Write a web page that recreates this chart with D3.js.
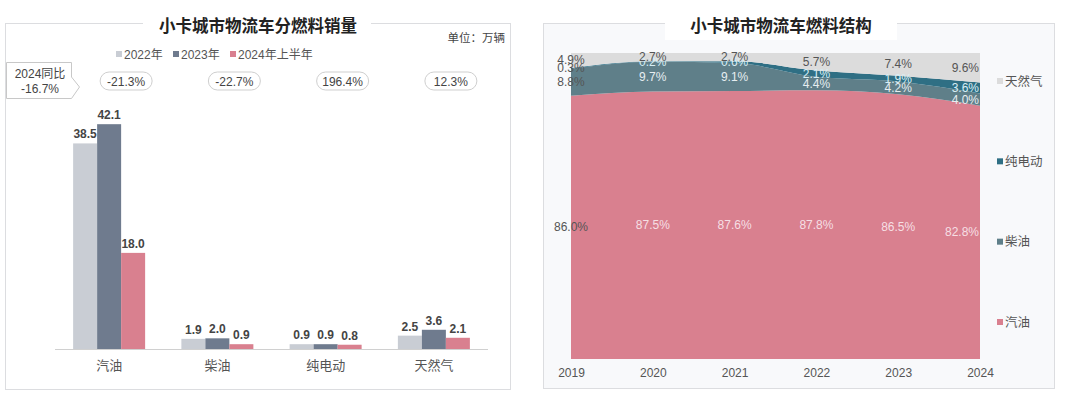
<!DOCTYPE html>
<html>
<head>
<meta charset="utf-8">
<script src="https://cdn.jsdelivr.net/npm/d3@7"></script>
<style>
  body { margin: 0; background: #fff; }
  svg text { font-family: "Liberation Sans", Arial, "Noto Sans CJK SC", sans-serif; }
</style>
</head>
<body>
<div id="chart"></div>
<script>
// left chart: sales by fuel (万辆)
const fuelCats = ["汽油", "柴油", "纯电动", "天然气"];
const seriesNames = ["2022年", "2023年", "2024年上半年"];
const sales2022 = [38.5, 1.9, 0.9, 2.5];
const sales2023 = [42.1, 2.0, 0.9, 3.6];
const sales2024H1 = [18.0, 0.9, 0.8, 2.1];
const yoyLabels = ["-21.3%", "-22.7%", "196.4%", "12.3%"];
const totalYoy = "-16.7%";

// right chart: fuel structure (%)
const structYears = ["2019", "2020", "2021", "2022", "2023", "2024"];
const shareGasoline = [86.0, 87.5, 87.6, 87.8, 86.5, 82.8];
const shareDiesel = [8.8, 9.7, 9.1, 4.4, 4.2, 4.0];
const shareElectric = [0.3, 0.2, 0.6, 2.1, 1.9, 3.6];
const shareGas = [4.9, 2.7, 2.7, 5.7, 7.4, 9.6];

const W = 1080, H = 398;
const svg = d3.select("#chart").append("svg").attr("width", W).attr("height", H);

const barColors = ["#c9cdd4", "#6f7b8e", "#d9808f"];
const areaColors = { "汽油": "#d9808f", "柴油": "#5f7f89", "纯电动": "#2f6f84", "天然气": "#dcdcdc" };

// ---------- left panel ----------
const left = svg.append("g");
left.append("rect").attr("x", 5.5).attr("y", 23.5).attr("width", 505).attr("height", 366)
  .attr("fill", "#fff").attr("stroke", "#dcdde0");
left.append("rect").attr("x", 143).attr("y", 10).attr("width", 228).attr("height", 30).attr("fill", "#fff");
left.append("text").attr("x", 258).attr("y", 32).attr("text-anchor", "middle")
  .attr("font-size", 16.5).attr("font-weight", "bold").attr("fill", "#222")
  .style("font-family", "'Noto Sans CJK SC', sans-serif")
  .text("小卡城市物流车分燃料销量");
left.append("text").attr("x", 505).attr("y", 42).attr("text-anchor", "end")
  .attr("font-size", 11.5).attr("fill", "#444").text("单位：万辆");

// legend
const legX = [116, 173, 230];
seriesNames.forEach((s, i) => {
  left.append("rect").attr("x", legX[i]).attr("y", 51).attr("width", 6).attr("height", 6).attr("fill", barColors[i]);
  left.append("text").attr("x", legX[i] + 8).attr("y", 58.5).attr("font-size", 12).attr("fill", "#555").text(s);
});

// YoY callout
left.append("path")
  .attr("d", "M6.5,62.5 H71.5 V77 L79.5,87 L71.5,98.5 H6.5 Z")
  .attr("fill", "#fff").attr("stroke", "#c8c8c8");
left.append("text").attr("x", 40).attr("y", 78).attr("text-anchor", "middle").attr("font-size", 12).attr("fill", "#444").text("2024同比");
left.append("text").attr("x", 40).attr("y", 93).attr("text-anchor", "middle").attr("font-size", 12).attr("fill", "#444").text(totalYoy);

const x0 = d3.scaleBand().domain(fuelCats).range([55, 488]);
const x1 = d3.scaleBand().domain(seriesNames).range([0, 72]);
const yBar = d3.scaleLinear().domain([0, 45]).range([349, 108.7]);
const barData = [sales2022, sales2023, sales2024H1];

// yoy pills
fuelCats.forEach((c, i) => {
  const cx = x0(c) + x0.bandwidth() / 2 + 17;
  left.append("rect").attr("x", cx - 26).attr("y", 72).attr("width", 52).attr("height", 18).attr("rx", 9)
    .attr("fill", "#fff").attr("stroke", "#cfcfcf");
  left.append("text").attr("x", cx).attr("y", 85.5).attr("text-anchor", "middle").attr("font-size", 12).attr("fill", "#444").text(yoyLabels[i]);
});

const groups = left.selectAll("g.grp").data(fuelCats).join("g")
  .attr("transform", c => `translate(${x0(c) + (x0.bandwidth() - 72) / 2},0)`);
groups.each(function(c, ci) {
  const g = d3.select(this);
  seriesNames.forEach((s, si) => {
    const v = barData[si][ci];
    g.append("rect").attr("x", x1(s)).attr("width", x1.bandwidth())
      .attr("y", yBar(v)).attr("height", yBar(0) - yBar(v)).attr("fill", barColors[si]);
    g.append("text").attr("x", x1(s) + x1.bandwidth() / 2).attr("y", yBar(v) - 5)
      .attr("text-anchor", "middle").attr("font-size", 12).attr("font-weight", "bold").attr("fill", "#444")
      .text(v.toFixed(1));
  });
});
left.append("line").attr("x1", 55).attr("x2", 488).attr("y1", 349.5).attr("y2", 349.5).attr("stroke", "#d0d0d0");
const xAxisL = left.append("g").attr("transform", "translate(0,349)")
  .call(d3.axisBottom(x0).tickSize(0).tickPadding(12));
xAxisL.select(".domain").remove();
xAxisL.selectAll("text").attr("font-size", 13).attr("fill", "#555")
  .style("font-family", "'Noto Sans CJK SC', sans-serif");

// ---------- right panel ----------
const right = svg.append("g");
right.append("rect").attr("x", 543.5).attr("y", 23.5).attr("width", 511).attr("height", 365)
  .attr("fill", "#f8f9fb").attr("stroke", "#dcdde0");
right.append("rect").attr("x", 665).attr("y", 8).attr("width", 232).attr("height", 32).attr("fill", "#fff");
right.append("text").attr("x", 781).attr("y", 32).attr("text-anchor", "middle")
  .attr("font-size", 16.5).attr("font-weight", "bold").attr("fill", "#222")
  .style("font-family", "'Noto Sans CJK SC', sans-serif")
  .text("小卡城市物流车燃料结构");

const keys = ["汽油", "柴油", "纯电动", "天然气"];
const shareRows = structYears.map((yr, i) => ({
  year: yr, "汽油": shareGasoline[i], "柴油": shareDiesel[i], "纯电动": shareElectric[i], "天然气": shareGas[i]
}));
const stacked = d3.stack().keys(keys).offset(d3.stackOffsetExpand)(shareRows);

const xA = d3.scalePoint().domain(structYears).range([571, 980]);
const yA = d3.scaleLinear().domain([0, 1]).range([359, 53]);
const area = d3.area().x(d => xA(d.data.year)).y0(d => yA(d[0])).y1(d => yA(d[1]))
  .curve(d3.curveMonotoneX);

right.selectAll("path.layer").data(stacked).join("path")
  .attr("class", "layer").attr("d", area).attr("fill", d => areaColors[d.key]);

const labelColors = { "汽油": "#f6dfe4", "柴油": "#e6eef1", "纯电动": "#d8eef5", "天然气": "#555" };
stacked.forEach(layer => {
  layer.forEach((d, i) => {
    const x = xA(d.data.year);
    const anchor = i === structYears.length - 1 ? "end" : "middle";
    right.append("text")
      .attr("x", i === structYears.length - 1 ? x - 1 : x)
      .attr("y", yA((d[0] + d[1]) / 2) + 4)
      .attr("text-anchor", anchor).attr("font-size", 12)
      .attr("fill", i === 0 ? "#555" : labelColors[layer.key])
      .text(d.data[layer.key].toFixed(1) + "%");
  });
});

const xAxisR = right.append("g").attr("transform", "translate(0,359)")
  .call(d3.axisBottom(xA).tickSize(0).tickPadding(9));
xAxisR.select(".domain").remove();
xAxisR.selectAll("text").attr("font-size", 12).attr("fill", "#555");

// right legend (top to bottom: 天然气, 纯电动, 柴油, 汽油)
const legendKeys = keys.slice().reverse();
const legY = d3.scalePoint().domain(legendKeys).range([81, 322]);
legendKeys.forEach(k => {
  right.append("rect").attr("x", 997).attr("y", legY(k) - 3).attr("width", 6).attr("height", 6).attr("fill", areaColors[k]);
  right.append("text").attr("x", 1005).attr("y", legY(k) + 4.5).attr("font-size", 12.5).attr("fill", "#555")
    .style("font-family", "'Noto Sans CJK SC', sans-serif").text(k);
});
</script>
</body>
</html>
